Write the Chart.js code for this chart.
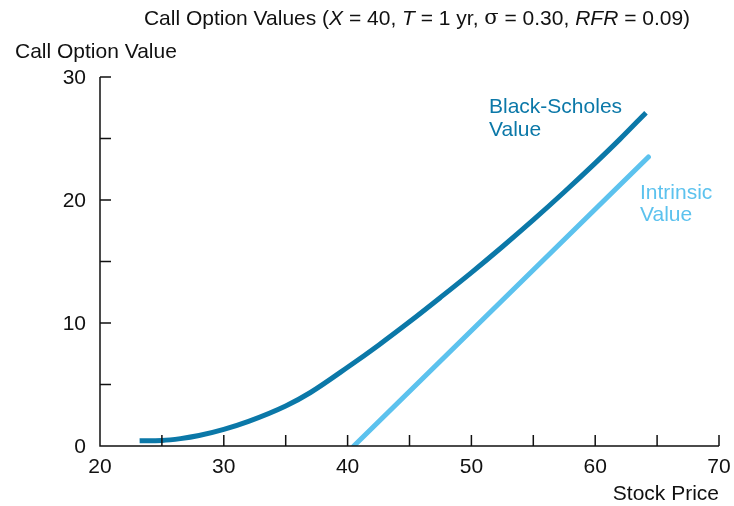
<!DOCTYPE html>
<html>
<head>
<meta charset="utf-8">
<script src="https://cdn.jsdelivr.net/npm/chart.js@4/dist/chart.umd.min.js"></script>
<style>
  body { margin: 0; background: #fff; }
  #wrap { width: 734px; height: 506px; position: relative; }
</style>
</head>
<body>
<div id="wrap"><canvas id="myChart"></canvas></div>
<script>
// stock prices and call values
const bsPrices = [23.2, 25, 26.5, 28, 30, 32, 35, 37, 40, 42.5, 45, 47.5, 50, 52.5, 55, 57.5, 60, 62, 64.1];
const bsValues = [0.42, 0.45, 0.6, 0.85, 1.35, 2.0, 3.25, 4.35, 6.4, 8.2, 10.1, 12.08, 14.1, 16.2, 18.38, 20.65, 23.0, 24.95, 27.1];
const intrinsicPrices = [40.5, 64.3];
const intrinsicValues = [0, 23.5];

const xTicks = [20, 30, 40, 50, 60, 70];
const yTicks = [0, 10, 20, 30];
const minorStep = 5;

const darkBlue = '#0b78a8';
const lightBlue = '#5cc2ee';
const font = '"Liberation Sans", Arial, sans-serif';

const toPoints = (xs, ys) => xs.map((x, i) => ({ x: x, y: ys[i] }));

// axis lines, inward ticks and all the text
const decorations = {
    id: 'decorations',
    afterDraw(chart) {
        const ctx = chart.ctx;
        const xs = chart.scales.x, ys = chart.scales.y;
        const x0 = xs.getPixelForValue(20), x1 = xs.getPixelForValue(70);
        const y0 = ys.getPixelForValue(0), y1 = ys.getPixelForValue(30);
        ctx.save();
        ctx.strokeStyle = '#111';
        ctx.lineWidth = 1.5;
        ctx.beginPath();
        ctx.moveTo(x0, y1); ctx.lineTo(x0, y0); ctx.lineTo(x1, y0);
        ctx.stroke();

        ctx.beginPath();
        for (let v = 5; v <= 30; v += minorStep) {
            const p = ys.getPixelForValue(v);
            ctx.moveTo(x0, p); ctx.lineTo(x0 + 11, p);
        }
        for (let v = 25; v <= 70; v += minorStep) {
            const p = xs.getPixelForValue(v);
            ctx.moveTo(p, y0); ctx.lineTo(p, y0 - 11);
        }
        ctx.stroke();

        ctx.fillStyle = '#111';
        ctx.font = '21px ' + font;
        ctx.textBaseline = 'middle';
        ctx.textAlign = 'right';
        yTicks.forEach(v => ctx.fillText(String(v), x0 - 14, ys.getPixelForValue(v) + 1));
        ctx.textAlign = 'center';
        xTicks.forEach(v => ctx.fillText(String(v), xs.getPixelForValue(v), y0 + 21));

        ctx.textAlign = 'right';
        ctx.fillText('Stock Price', x1, y0 + 48);
        ctx.textAlign = 'left';
        ctx.fillText('Call Option Value', 15, 52);

        // title with italic parts
        const parts = [
            ['Call Option Values (', ''], ['X', 'italic '], [' = 40, ', ''], ['T', 'italic '],
            [' = 1 yr, ', ''], ['\u03c3', 'sym'], [' = 0.30, ', ''], ['RFR', 'italic '], [' = 0.09)', '']
        ];
        const fontOf = s => s === 'sym' ? '21px "DejaVu Serif", serif' : s + '21px ' + font;
        let total = 0;
        parts.forEach(p => { ctx.font = fontOf(p[1]); total += ctx.measureText(p[0]).width; });
        let cx = 417 - total / 2;
        parts.forEach(p => {
            ctx.font = fontOf(p[1]);
            ctx.fillText(p[0], cx, 19);
            cx += ctx.measureText(p[0]).width;
        });

        ctx.font = '21px ' + font;
        ctx.fillStyle = darkBlue;
        ctx.fillText('Black-Scholes', 489, 107);
        ctx.fillText('Value', 489, 130);
        ctx.fillStyle = lightBlue;
        ctx.fillText('Intrinsic', 640, 193);
        ctx.fillText('Value', 640, 215);
        ctx.restore();
    }
};

const ctx = document.getElementById('myChart').getContext('2d');
const myChart = new Chart(ctx, {
    type: 'scatter',
    data: {
        datasets: [{
            label: 'Black-Scholes Value',
            data: toPoints(bsPrices, bsValues),
            showLine: true,
            borderColor: darkBlue,
            borderWidth: 5,
            borderCapStyle: 'butt',
            cubicInterpolationMode: 'monotone',
            pointRadius: 0
        }, {
            label: 'Intrinsic Value',
            data: toPoints(intrinsicPrices, intrinsicValues),
            showLine: true,
            borderColor: lightBlue,
            borderWidth: 5,
            borderCapStyle: 'round',
            pointRadius: 0
        }]
    },
    options: {
        responsive: true,
        maintainAspectRatio: false,
        animation: false,
        layout: { padding: { left: 100, top: 77, right: 15, bottom: 60 } },
        plugins: {
            legend: { display: false },
            tooltip: { enabled: false }
        },
        scales: {
            x: { type: 'linear', min: 20, max: 70, display: false },
            y: { min: 0, max: 30, display: false }
        }
    },
    plugins: [decorations]
});
</script>
</body>
</html>
